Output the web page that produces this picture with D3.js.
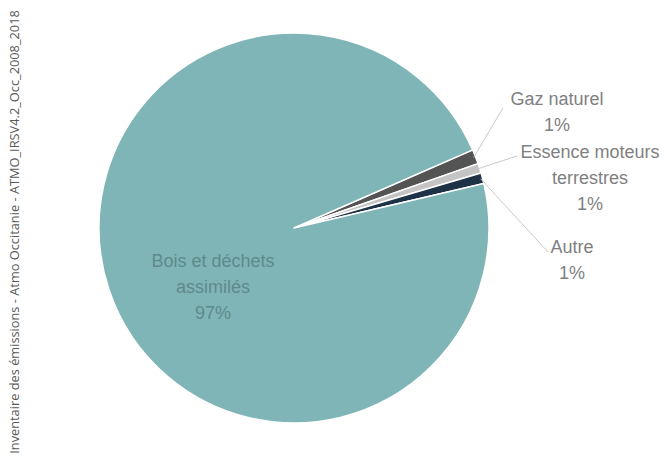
<!DOCTYPE html>
<html><head><meta charset="utf-8">
<script src="https://cdn.jsdelivr.net/npm/d3@7"></script>
<style>body{margin:0;background:#fff;}svg{display:block;}</style>
</head><body>
<svg id="chart" width="664" height="464"></svg>
<script>
const categories = ["Gaz naturel", "Essence moteurs terrestres", "Autre", "Bois et déchets assimilés"];
const values = [1.2, 0.8, 0.9, 97.1];
const percentLabels = ["1%", "1%", "1%", "97%"];
const labelLines = [["Gaz naturel"], ["Essence moteurs", "terrestres"], ["Autre"], ["Bois et déchets", "assimilés"]];
const colors = ["#545454", "#c4c4c4", "#1e3247", "#80b5b7"];
const sourceText = "Inventaire des émissions - Atmo Occitanie - ATMO_IRSV4.2_Occ_2008_2018";

const svg = d3.select("#chart");
const cx = 294, cy = 228, R = 195;
const start = 66.4 * Math.PI / 180;
const pie = d3.pie().sort(null).startAngle(start).endAngle(start + 2 * Math.PI);
const arcs = pie(values);
const arc = d3.arc().innerRadius(0).outerRadius(R);
const g = svg.append("g").attr("transform", `translate(${cx},${cy})`);
g.selectAll("path").data(arcs).join("path")
  .attr("d", arc)
  .attr("fill", (d, i) => colors[i])
  .attr("stroke", "#fff").attr("stroke-width", 1.5).attr("stroke-linejoin", "round");

const labelPos = [
  {x: 557, y: 105, lead: [503, 108]},
  {x: 590, y: 158, lead: [517, 156]},
  {x: 572, y: 253, lead: [548, 252]},
  {x: 213, y: 267}
];
const lh = 26;
const outer = d3.arc().innerRadius(R - 2).outerRadius(R - 2);
arcs.forEach((d, i) => {
  const p = labelPos[i];
  if (p.lead) {
    const c = outer.centroid(d);
    svg.append("line")
      .attr("x1", cx + c[0]).attr("y1", cy + c[1])
      .attr("x2", p.lead[0]).attr("y2", p.lead[1])
      .attr("stroke", "#c9c9c9").attr("stroke-width", 1);
  }
  const lines = labelLines[i].concat([percentLabels[i]]);
  const t = svg.append("text")
    .attr("text-anchor", "middle")
    .attr("font-family", "Liberation Sans, Arial, sans-serif")
    .attr("font-size", 18)
    .attr("fill", i === 3 ? "#5e8a8c" : "#7f7f7f");
  lines.forEach((s, k) => {
    t.append("tspan").attr("x", p.x).attr("y", p.y + k * lh).text(s);
  });
});

svg.append("text")
  .attr("transform", "translate(19,232) rotate(-90)")
  .attr("text-anchor", "middle")
  .attr("font-family", "Open Sans, sans-serif")
  .attr("font-size", 12.8)
  .attr("fill", "#5a5a5a")
  .text(sourceText);
</script>
</body></html>
